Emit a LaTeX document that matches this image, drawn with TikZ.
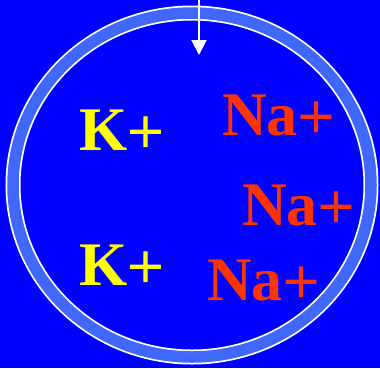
\documentclass[tikz,border=0pt]{standalone}
\usepackage{fontspec}
\setmainfont{Liberation Serif}
\newfontfamily\plusfont[FakeBold=1.6]{Liberation Serif}
\usetikzlibrary{arrows.meta}
\definecolor{bgblue}{RGB}{0,0,255}
\definecolor{ringblue}{RGB}{64,104,255}
\definecolor{kyellow}{RGB}{255,255,0}
\definecolor{nared}{RGB}{255,51,0}
\newcommand{\ionplus}{\raisebox{-3pt}{\plusfont\mdseries\fontsize{64}{64}\selectfont +}}
\tikzset{
  ion/.style={anchor=base west, inner sep=0pt, font=\fontsize{62}{62}\selectfont\bfseries},
  kion/.style={ion, text=kyellow},
  naion/.style={ion, text=nared},
}
\begin{document}
\begin{tikzpicture}[x=1pt,y=-1pt]
\fill[bgblue] (0,0) rectangle (380,368);
\useasboundingbox (0,0) rectangle (380,368);
\coordinate (c) at (192,185);
\draw[white, line width=15] (c) ellipse [x radius=179, y radius=172];
\draw[ringblue, line width=11.5] (c) ellipse [x radius=179, y radius=172];
\coordinate (top) at (199,0);
\coordinate (tip) at (199,55);
\draw[white, line width=2, -{Triangle[width=15, length=15]}] (top) -- (tip);
\node[kion] (k1) at (79,150) {K\ionplus};
\node[kion] (k2) at (79,285) {K\ionplus};
\node[naion] (na1) at (222,135) {Na\ionplus};
\node[naion] (na2) at (242,225) {Na\ionplus};
\node[naion] (na3) at (207,300) {Na\ionplus};
\end{tikzpicture}
\end{document}
